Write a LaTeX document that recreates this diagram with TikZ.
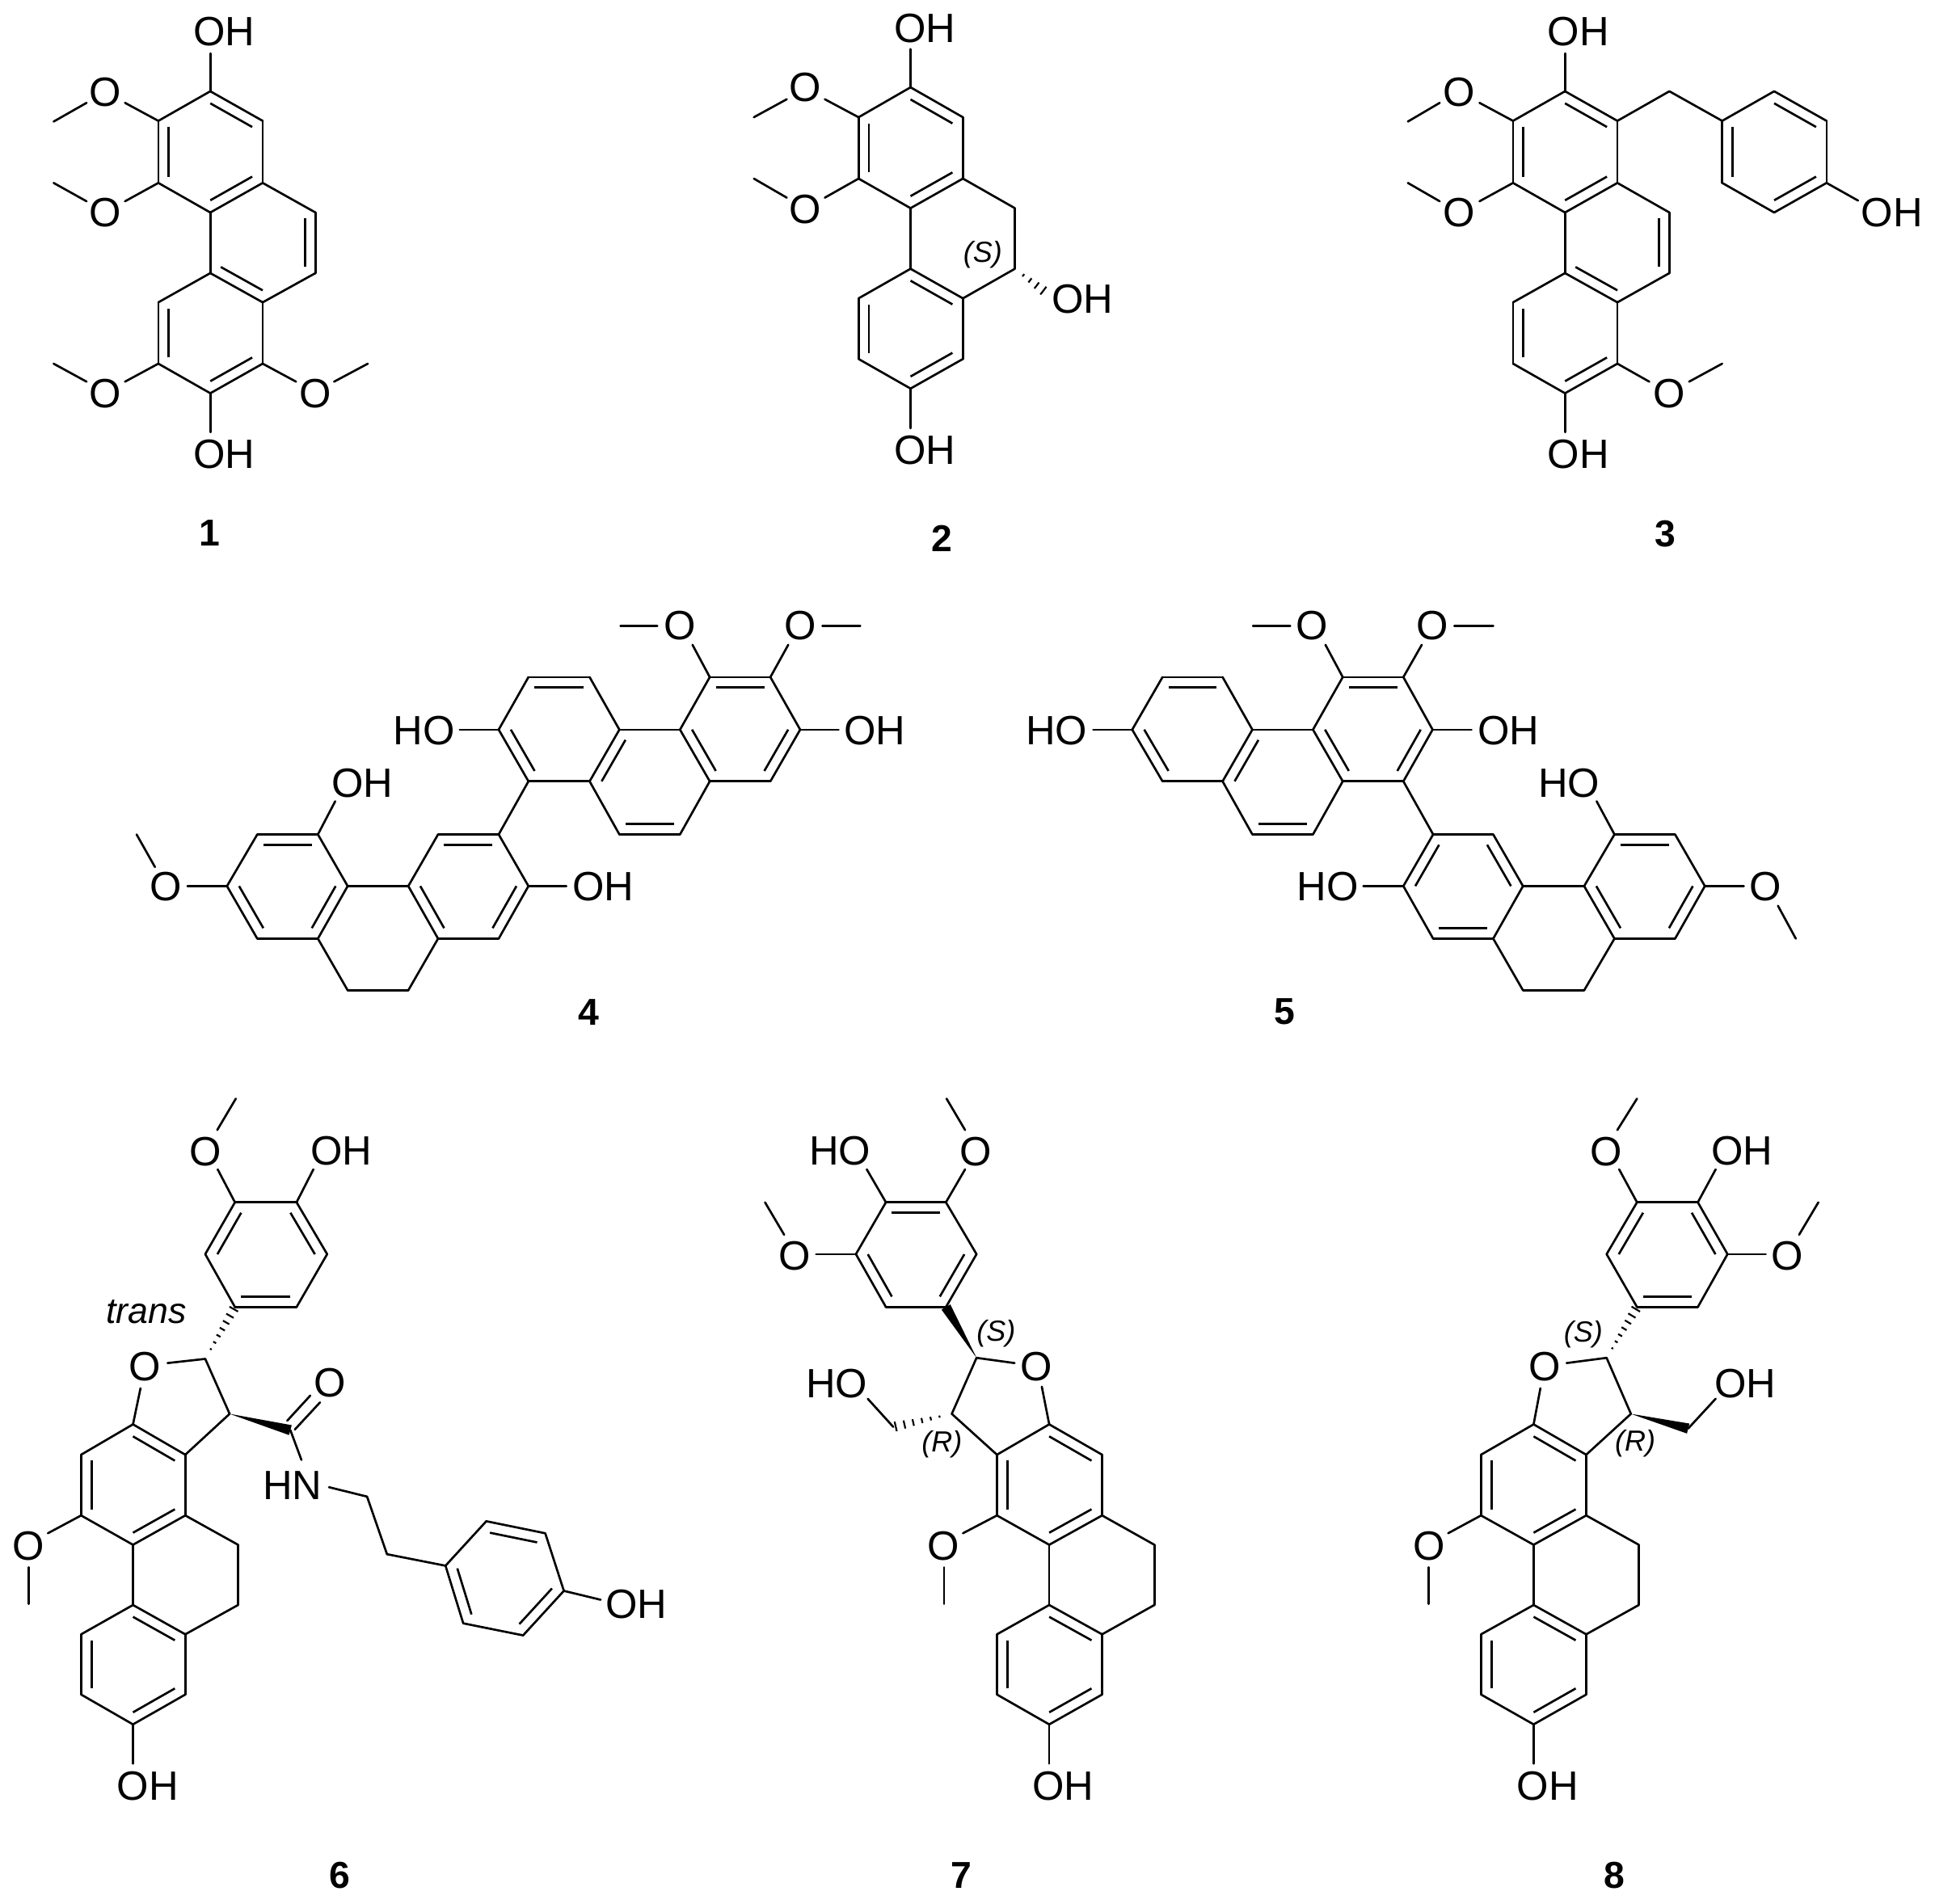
\documentclass[tikz,border=0pt]{standalone}
\usepackage{fontspec}
\setmainfont{Liberation Sans}
\usetikzlibrary{calc}
\tikzset{
  bond/.style={line width=0.8pt,line cap=round,black},
  innerbond/.style={line width=0.8pt,line cap=butt,black},
  hashtick/.style={line width=0.65pt,black},
  atomlabel/.style={font=\fontsize{15.2}{17}\selectfont,inner sep=0pt},
  numlabel/.style={font=\fontsize{13.9}{15}\selectfont\bfseries,inner sep=0pt},
  stereolabel/.style={font=\fontsize{10.8}{12}\selectfont\itshape,inner sep=0pt},
  translabel/.style={font=\fontsize{13.4}{15}\selectfont\itshape,inner sep=0pt},
  zoomframe/.style n args={5}{name prefix=#1-,shift={(#2,#3)},x=#4,y=#5}
}
\newcommand{\Atoms}[1]{\foreach \n/\x/\y in {#1}{\coordinate (\n) at (\x,\y);}}
\newcommand{\Bonds}[1]{\foreach \a/\b in {#1}{\draw[bond] (\a)--(\b);}}
\newcommand{\Doubles}[1]{\foreach \a/\b/\c in {#1}{\draw[bond] (\a)--(\b);\draw[innerbond] ($(\a)!0.2!(\c)$)--($(\b)!0.2!(\c)$);}}
\newcommand{\WedgeBond}[2]{\fill[black] (#1)--($(#2)!1.9pt!90:(#1)$)--($(#2)!1.9pt!-90:(#1)$)--cycle;}
\newcommand{\HashBond}[3]{\foreach \i in {1,...,#3}{%
  \pgfmathsetmacro{\t}{0.06+0.90*\i/#3}\pgfmathsetmacro{\w}{1.9*\t}%
  \draw[hashtick] ($(#1)!\t!(#2)!\w pt!90:(#2)$)--($(#1)!\t!(#2)!\w pt!-90:(#2)$);}}
\begin{document}
\begin{tikzpicture}
\useasboundingbox (0,0) rectangle (718.2pt,-706.8pt);
\fill[white] (0,0) rectangle (718.2pt,-706.8pt);

% ---- 1 ----
\begin{scope}[zoomframe={m1}{0pt}{0pt}{0.153061pt}{-0.133929pt}]
\Atoms{a1/510/253,a2/637/335,a3/637/507,a4/510/589,a5/384/507,a6/384/335,cA/510/420,
b1/765/589,b2/765/757,a8/637/838,a7/510/757,cB/637/672,
c1/637/1008,c2/510/1090,c3/384/1008,c4/384/838,cC/510/923,
e1/510/148,e2/303/285,e3/210/285,e4/130/337,e5/303/558,e6/210/558,e7/130/507,
e8/303/1058,e9/210/1058,e10/130/1008,e11/718/1058,e12/810/1058,e13/892/1008,e14/510/1198}
\Doubles{a1/a2/cA,a5/a6/cA,a3/a4/cA,b1/b2/cB,a7/a8/cB,c1/c2/cC,c3/c4/cC}
\Bonds{a2/a3,a4/a5,a6/a1,a3/b1,b2/a8,a4/a7,a8/c1,c2/c3,c4/a7,
a1/e1,a6/e2,e3/e4,a5/e5,e6/e7,c3/e8,e9/e10,c1/e11,e12/e13,c2/e14}
\node[atomlabel] (oh1) at (543,88) {OH};
\node[atomlabel] (o1) at (255,255) {O};
\node[atomlabel] (o2) at (255,590) {O};
\node[atomlabel] (o3) at (255,1092) {O};
\node[atomlabel] (o4) at (765,1092) {O};
\node[atomlabel] (oh2) at (543,1258) {OH};
\node[numlabel] (num) at (508,1477) {1};
\end{scope}

% ---- 2 ----
\begin{scope}[zoomframe={m2}{240pt}{0pt}{0.153061pt}{-0.133929pt}]
\Atoms{a1/640/242,a2/767/325,a3/767/495,a4/640/577,a5/514/495,a6/514/325,cA/640/410,
b1/893/577,b2/893/745,a8/767/827,a7/640/745,
c1/767/995,c2/640/1077,c3/514/995,c4/514/827,cC/640/910,
e1/640/136,e2/432/275,e3/340/275,e4/260/325,e5/432/548,e6/340/548,e7/260/495,e8/640/1187,e9/965/808}
\Doubles{a1/a2/cA,a5/a6/cA,a3/a4/cA,a7/a8/cC,c1/c2/cC,c3/c4/cC}
\Bonds{a2/a3,a4/a5,a6/a1,a3/b1,b1/b2,b2/a8,a4/a7,a8/c1,c2/c3,c4/a7,
a1/e1,a6/e2,e3/e4,a5/e5,e6/e7,c2/e8}
\HashBond{b2}{e9}{4}
\node[atomlabel] (oh1) at (675,78) {OH};
\node[atomlabel] (o1) at (385,243) {O};
\node[atomlabel] (o2) at (385,580) {O};
\node[atomlabel] (oh2) at (675,1248) {OH};
\node[atomlabel] (oh3) at (1057,830) {OH};
\node[stereolabel] (st) at (815,705) {(S)};
\node[numlabel] (num) at (716,1492) {2};
\end{scope}

% ---- 3 ----
\begin{scope}[zoomframe={m3}{480pt}{0pt}{0.151913pt}{-0.133929pt}]
\Atoms{a1/664/253,a2/792/335,a3/792/507,a4/664/589,a5/537/507,a6/537/335,cA/664/420,
b1/919/589,b2/919/757,a8/792/838,a7/664/757,cB/792/672,
c1/792/1008,c2/664/1090,c3/537/1008,c4/537/838,cC/664/923,
d0/919/253,d1/1048/335,d2/1175/253,d3/1303/335,d4/1303/507,d5/1175/589,d6/1048/507,cD/1175/420,
e1/664/148,e2/455/285,e3/358/285,e4/280/337,e5/455/558,e6/358/558,e7/280/507,
e8/870/1058,e9/967/1058,e10/1048/1008,e11/664/1198,e12/1380/556}
\Doubles{a1/a2/cA,a5/a6/cA,a3/a4/cA,b1/b2/cB,a7/a8/cB,c1/c2/cC,c3/c4/cC,d1/d6/cD,d2/d3/cD,d4/d5/cD}
\Bonds{a2/a3,a4/a5,a6/a1,a3/b1,b2/a8,a4/a7,a8/c1,c2/c3,c4/a7,a2/d0,d0/d1,d1/d2,d3/d4,d5/d6,
a1/e1,a6/e2,e3/e4,a5/e5,e6/e7,c1/e8,e9/e10,c2/e11,d4/e12}
\node[atomlabel] (oh1) at (697,88) {OH};
\node[atomlabel] (o1) at (405,255) {O};
\node[atomlabel] (o2) at (405,590) {O};
\node[atomlabel] (o3) at (918,1092) {O};
\node[atomlabel] (oh2) at (697,1258) {OH};
\node[atomlabel] (oh3) at (1463,590) {OH};
\node[numlabel] (num) at (910,1480) {3};
\end{scope}

% ---- 4 ----
\begin{scope}[zoomframe={m4}{30pt}{-216pt}{0.200893pt}{-0.107143pt}]
\Atoms{p1/1162/330,p2/1274/330,p3/1329/512,p4/1274/691,p5/1162/691,p6/1107/512,cA/1218/511,
q1/1107/875,q2/995/875,q3/940/691,q4/995/512,cB/1051/691,
q5/827/691,q6/772/512,q7/827/330,q8/940/330,cC/884/511,
r1/772/875,r2/660/875,r3/605/1054,r4/660/1236,r5/772/1236,r6/827/1054,cD/716/1054,
s1/605/1415,s2/493/1415,s3/438/1236,s4/493/1054,
s5/438/875,s6/326/875,s7/270/1054,s8/326/1236,cE/382/1054,
e1/1130/218,e2/1065/152,e3/997/152,e4/1307/218,e5/1370/152,e6/1440/152,e7/1400/512,e8/700/512,
e9/897/1054,e10/470/760,e11/197/1054,e12/137/988,e13/103/875}
\Doubles{p1/p2/cA,p3/p4/cA,p5/p6/cA,q1/q2/cB,q3/q4/cB,q5/q6/cC,q7/q8/cC,
r1/r2/cD,r3/r4/cD,r5/r6/cD,s5/s6/cE,s7/s8/cE,s3/s4/cE}
\Bonds{p2/p3,p4/p5,p6/p1,p5/q1,q2/q3,q4/p6,q3/q5,q6/q7,q8/q4,q5/r1,
r2/r3,r4/r5,r6/r1,r4/s1,s1/s2,s2/s3,r3/s4,s4/s5,s6/s7,s8/s3,
p1/e1,e2/e3,p2/e4,e5/e6,p3/e7,q6/e8,r6/e9,s5/e10,s7/e11,e12/e13}
\node[atomlabel] (o1) at (1107,152) {O};
\node[atomlabel] (o2) at (1330,152) {O};
\node[atomlabel] (oh1) at (1467,514) {OH};
\node[atomlabel] (oh2) at (634,514) {HO};
\node[atomlabel] (oh3) at (965,1057) {OH};
\node[atomlabel] (oh4) at (520,697) {OH};
\node[atomlabel] (o3) at (157,1056) {O};
\node[numlabel] (num) at (938,1490) {4};
\end{scope}

% ---- 5 ----
\begin{scope}[zoomframe={m5}{369pt}{-216pt}{0.200893pt}{-0.107143pt}]
\Atoms{p1/644/330,p2/756/330,p3/810/512,p4/756/691,p5/644/691,p6/589/512,cA/700/511,
q1/589/875,q2/477/875,q3/422/691,q4/477/512,cB/533/691,
q5/311/691,q6/255/512,q7/311/330,q8/422/330,cC/366/511,
r1/811/875,r2/922/875,r3/977/1054,r4/922/1236,r5/811/1236,r6/756/1054,cD/866/1054,
s1/977/1415,s2/1090/1415,s3/1146/1236,s4/1090/1054,
s5/1146/875,s6/1258/875,s7/1313/1054,s8/1258/1236,cE/1202/1054,
e1/612/218,e2/547/152,e3/478/152,e4/790/218,e5/850/152,e6/922/152,e7/882/512,e8/183/512,
e9/682/1054,e10/1113/760,e11/1385/1054,e12/1448/1122,e13/1481/1236}
\Doubles{p1/p2/cA,p3/p4/cA,p5/p6/cA,q1/q2/cB,q3/q4/cB,q5/q6/cC,q7/q8/cC,
r1/r6/cD,r2/r3/cD,r4/r5/cD,s5/s6/cE,s7/s8/cE,s3/s4/cE}
\Bonds{p2/p3,p4/p5,p6/p1,p5/q1,q2/q3,q4/p6,q3/q5,q6/q7,q8/q4,p4/r1,
r1/r2,r3/r4,r5/r6,r4/s1,s1/s2,s2/s3,r3/s4,s4/s5,s6/s7,s8/s3,
p1/e1,e2/e3,p2/e4,e5/e6,p3/e7,q6/e8,r6/e9,s5/e10,s7/e11,e12/e13}
\node[atomlabel] (o1) at (587,152) {O};
\node[atomlabel] (o2) at (810,152) {O};
\node[atomlabel] (oh1) at (950,514) {OH};
\node[atomlabel] (oh2) at (115,514) {HO};
\node[atomlabel] (oh3) at (616,1057) {HO};
\node[atomlabel] (oh4) at (1062,697) {HO};
\node[atomlabel] (o3) at (1425,1056) {O};
\node[numlabel] (num) at (537,1490) {5};
\end{scope}

% ---- 6 ----
\begin{scope}[zoomframe={m6}{0pt}{-402pt}{0.164541pt}{-0.194388pt}]
\Atoms{a1/300/652,a2/418/710,a3/418/826,a4/300/882,a5/183/826,a6/183/710,cA/300/767,
b1/537/882,b2/537/997,c1/300/997,c2/418/1053,c3/418/1168,c4/300/1225,c5/183/1168,c6/183/1053,cC/300/1110,
f1/463/527,f2/518/632,
g1/530/428,g2/669/428,g3/738/327,g4/669/228,g5/530/228,g6/463/327,cG/600/328,
h/655/663,i1/828/790,i2/873/900,
j1/1005/922,j2/1097/837,j3/1230/860,j4/1272/970,j5/1180/1055,j6/1045/1032,cJ/1138/947,
e1/317/583,e2/378/535,e3/491/165,e4/490/90,e5/532/30,e6/707/165,e7/680/720,e8/742/772,
e9/1355/987,e10/108/860,e11/65/925,e12/65/995,e13/300/1300,
k1/648/645,k2/700/597,k3/665/662,k4/722/610}
\Doubles{a1/a2/cA,a3/a4/cA,a5/a6/cA,c1/c2/cC,c3/c4/cC,c5/c6/cC,g1/g2/cG,g3/g4/cG,g5/g6/cG,j1/j6/cJ,j2/j3/cJ,j4/j5/cJ}
\Bonds{a2/a3,a4/a5,a6/a1,a3/b1,b1/b2,b2/c2,a4/c1,c2/c3,c4/c5,c6/c1,
a1/e1,e2/f1,f1/f2,f2/a2,g2/g3,g4/g5,g6/g1,g5/e3,e4/e5,g4/e6,h/e7,e8/i1,i1/i2,i2/j1,
j1/j2,j3/j4,j5/j6,j4/e9,a5/e10,e11/e12,c4/e13,k1/k2,k3/k4}
\HashBond{f1}{g1}{7}
\WedgeBond{f2}{h}
\node[atomlabel] (o1) at (327,542) {O};
\node[atomlabel] (o2) at (463,132) {O};
\node[atomlabel] (oh1) at (770,130) {OH};
\node[atomlabel] (o3) at (745,572) {O};
\node[atomlabel] (nh) at (660,768) {HN};
\node[atomlabel] (oh2) at (1435,995) {OH};
\node[atomlabel] (o4) at (65,885) {O};
\node[atomlabel] (oh3) at (333,1343) {OH};
\node[translabel] (tr) at (330,437) {trans};
\node[numlabel] (num) at (767,1513) {6};
\end{scope}

% ---- 7 ----
\begin{scope}[zoomframe={m7}{279pt}{-402pt}{0.114796pt}{-0.194388pt}]
\Atoms{a1/962/652,a2/1133/710,a3/1133/826,a4/962/882,a5/793/826,a6/793/710,cA/962/767,
b1/1302/882,b2/1302/997,c1/962/997,c2/1133/1053,c3/1133/1168,c4/962/1225,c5/793/1168,c6/793/1053,cC/962/1110,
f1/727/525,f2/647/632,
g1/628/428,g2/727/327,g3/628/228,g4/434/228,g5/337/327,g6/434/428,cG/530/328,k/458/657,
e1/938/580,e2/850/535,e3/690/165,e4/690/90,e5/630/30,e6/372/165,e7/208/327,e8/105/290,e9/43/228,
e10/375/603,e11/683/860,e12/622/925,e13/622/995,e14/962/1300}
\Doubles{a1/a2/cA,a3/a4/cA,a5/a6/cA,c1/c2/cC,c3/c4/cC,c5/c6/cC,g1/g2/cG,g3/g4/cG,g5/g6/cG}
\Bonds{a2/a3,a4/a5,a6/a1,a3/b1,b1/b2,b2/c2,a4/c1,c2/c3,c4/c5,c6/c1,
a1/e1,e2/f1,f1/f2,f2/a6,g2/g3,g4/g5,g6/g1,g3/e3,e4/e5,g4/e6,g5/e7,e8/e9,k/e10,a5/e11,e12/e13,c4/e14}
\WedgeBond{f1}{g1}
\HashBond{f2}{k}{6}
\node[atomlabel] (o1) at (920,542) {O};
\node[atomlabel] (o2) at (725,132) {O};
\node[atomlabel] (oh1) at (285,130) {HO};
\node[atomlabel] (o3) at (138,330) {O};
\node[atomlabel] (oh2) at (275,574) {HO};
\node[atomlabel] (o4) at (620,885) {O};
\node[atomlabel] (oh3) at (1007,1343) {OH};
\node[stereolabel] (st1) at (790,478) {(S)};
\node[stereolabel] (st2) at (615,690) {(R)};
\node[numlabel] (num) at (678,1513) {7};
\end{scope}

% ---- 8 ----
\begin{scope}[zoomframe={m8}{510pt}{-402pt}{0.132781pt}{-0.194388pt}]
\Atoms{a1/446/652,a2/593/710,a3/593/826,a4/446/882,a5/299/826,a6/299/710,cA/446/767,
b1/740/882,b2/740/997,c1/446/997,c2/593/1053,c3/593/1168,c4/446/1225,c5/299/1168,c6/299/1053,cC/446/1110,
f1/650/525,f2/718/632,
g1/735/428,g2/905/428,g3/988/327,g4/905/228,g5/735/228,g6/650/327,cG/820/328,k/878/660,
e1/465/583,e2/538/535,e3/685/165,e4/680/90,e5/735/30,e6/955/165,e7/1095/327,e8/1188/290,e9/1242/228,
e10/955/603,e11/207/860,e12/153/925,e13/153/995,e14/446/1300}
\Doubles{a1/a2/cA,a3/a4/cA,a5/a6/cA,c1/c2/cC,c3/c4/cC,c5/c6/cC,g1/g2/cG,g3/g4/cG,g5/g6/cG}
\Bonds{a2/a3,a4/a5,a6/a1,a3/b1,b1/b2,b2/c2,a4/c1,c2/c3,c4/c5,c6/c1,
a1/e1,e2/f1,f1/f2,f2/a2,g2/g3,g4/g5,g6/g1,g5/e3,e4/e5,g4/e6,g3/e7,e8/e9,k/e10,a5/e11,e12/e13,c4/e14}
\HashBond{f1}{g1}{7}
\WedgeBond{f2}{k}
\node[atomlabel] (o1) at (478,542) {O};
\node[atomlabel] (o2) at (648,132) {O};
\node[atomlabel] (oh1) at (1028,130) {OH};
\node[atomlabel] (o3) at (1155,330) {O};
\node[atomlabel] (oh2) at (1037,574) {OH};
\node[atomlabel] (o4) at (153,885) {O};
\node[atomlabel] (oh3) at (485,1343) {OH};
\node[stereolabel] (st1) at (585,480) {(S)};
\node[stereolabel] (st2) at (730,688) {(R)};
\node[numlabel] (num) at (672,1513) {8};
\end{scope}
\end{tikzpicture}
\end{document}
